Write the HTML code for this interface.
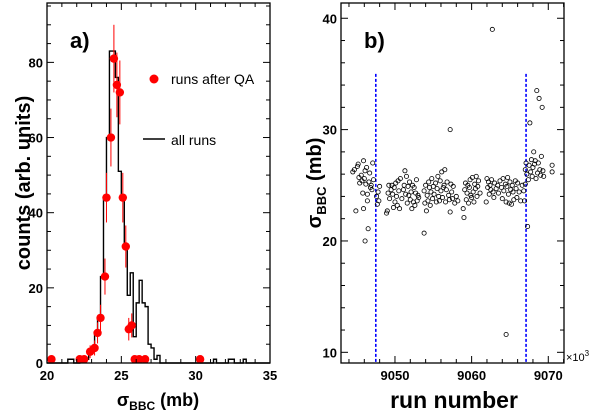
<!DOCTYPE html>
<html><head><meta charset="utf-8">
<style>
html,body{margin:0;padding:0;background:#fff;}
svg{display:block;font-family:"Liberation Sans",Arial,sans-serif;font-weight:bold;}
</style></head>
<body>
<svg id="chart" width="600" height="417" viewBox="0 0 600 417"></svg>
<script>
// ---------- Panel a data ----------
const histBinStarts = [21.4,21.6,21.8,22.0,22.2,22.4,22.6,22.8,23.0,23.2,23.4,23.6,23.8,24.0,24.2,24.4,24.6,24.8,25.0,25.2,25.4,25.6,25.8,26.0,26.2,26.4,26.6,26.8,27.0,27.2,27.4,27.6,31.2,31.4,32.2,32.4,32.6,33.2,33.4];
const histCounts    = [1,1,0,0,1,1,1,3,4,8,12,23,44,60,83,83,76,51,44,31,18,24,7,16,22,16,15,5,4,1,2,0,1,0,1,1,0,1,0];
const qaX = [20.3,22.2,22.5,22.9,23.2,23.4,23.6,23.9,24.0,24.3,24.5,24.7,24.9,25.1,25.3,25.5,25.7,25.9,26.2,26.6,30.3];
const qaY = [1,1,1,3,4,8,12,23,44,60,81,74,72,44,31,9,10,1,1,1,1];
const qaErr=[1,1,1,1.7,2,2.8,3.5,4.8,6.6,7.7,9,8.6,8.5,6.6,5.6,3,3.2,1,1,1,1];
// ---------- Panel b data ----------
const runNumbers = [44.5,44.7,44.9,45.1,45.2,45.3,45.4,45.6,45.7,45.8,45.9,45.9,46.0,46.1,46.1,46.2,46.3,46.4,46.4,46.5,46.6,46.7,46.8,46.9,47.0,47.1,47.2,47.6,47.7,47.8,47.9,48.0,
48.9,49.0,49.1,49.2,49.3,49.5,49.6,49.7,49.8,49.9,50.0,50.1,50.2,50.3,50.4,50.5,50.6,50.7,50.9,51.1,51.2,51.3,51.4,51.5,51.6,51.7,51.8,51.9,52.0,52.1,52.2,52.3,52.4,52.5,52.6,52.7,52.8,52.9,53.0,53.1,
53.8,53.8,53.9,54.0,54.1,54.2,54.3,54.4,54.5,54.6,54.7,54.8,54.9,55.0,55.1,55.3,55.4,55.5,55.6,55.7,55.8,55.9,56.0,56.1,56.2,56.3,56.4,56.5,56.6,56.7,56.8,57.2,57.0,57.1,57.2,57.3,57.4,57.5,57.6,57.8,58.0,58.2,
58.9,59.0,59.1,59.2,59.3,59.4,59.5,59.6,59.7,59.8,59.9,60.0,60.1,60.2,60.3,60.4,60.5,60.6,60.7,60.8,60.9,61.1,
61.9,62.0,62.1,62.2,62.3,62.4,62.5,62.6,62.7,62.8,62.9,63.0,63.2,63.4,63.5,63.7,63.9,64.0,64.1,64.2,64.4,64.5,64.6,64.7,64.8,64.9,65.0,65.1,65.2,65.3,65.4,65.5,64.5,65.7,65.8,65.9,66.0,66.2,66.4,66.6,
66.8,66.9,67.0,67.0,67.1,67.2,67.3,67.4,67.5,67.6,67.7,67.8,67.9,68.0,68.1,68.2,68.3,68.4,68.5,68.6,68.7,68.8,68.9,69.0,69.1,69.2,69.3,69.4,70.5,70.5];
const sigmaValues = [26.2,26.4,22.7,26.7,26.9,25.7,25.2,25.9,25.4,24.3,27.2,22.9,25.6,26.3,20.0,25.1,26.6,24.2,23.6,21.1,25.3,26.1,24.8,25.0,24.6,27.0,25.5,24.0,23.3,24.4,23.6,24.9,
22.5,22.7,24.3,25.0,23.8,24.6,25.0,24.2,23.0,24.8,23.5,25.2,24.0,23.2,25.4,24.5,22.9,25.6,23.8,24.6,25.0,26.3,24.2,25.8,23.4,24.9,24.1,25.3,23.7,24.4,22.9,25.0,23.5,24.8,23.2,24.3,25.5,23.6,24.1,23.9,
20.7,24.5,23.4,25.0,22.7,24.1,23.6,25.3,24.8,23.2,24.4,25.6,23.8,24.9,24.2,25.2,23.5,24.7,25.8,24.0,23.6,25.4,24.5,26.2,23.9,24.8,25.0,26.4,23.5,24.6,25.3,30.0,24.1,23.7,22.6,25.1,24.4,23.8,24.9,23.4,24.0,23.6,
22.9,22.1,24.6,25.2,23.7,24.3,25.0,23.4,24.8,25.5,24.1,23.9,25.7,24.4,23.5,25.1,24.7,25.8,24.0,24.9,25.4,24.3,
23.5,25.6,24.8,25.3,24.2,25.0,24.6,25.5,39.0,24.4,23.9,25.2,24.7,25.0,24.3,25.4,24.8,23.8,25.6,24.5,25.1,23.5,24.9,25.7,24.2,23.4,25.3,24.6,23.3,25.0,24.4,23.7,11.6,25.4,24.7,23.9,25.2,24.4,23.6,25.0,
24.5,23.6,26.4,25.1,27.0,26.0,21.3,25.5,26.8,30.6,26.2,27.3,25.8,26.6,28.0,26.9,27.2,25.6,33.5,26.1,27.0,32.8,26.4,25.9,27.6,32.0,26.3,25.8,26.8,26.2];
const cutRuns = [47.5, 67.1];
const leftXTicks=[20,25,30,35], leftYTicks=[0,20,40,60,80];
const rightXTicks=[9050,9060,9070], rightYTicks=[10,20,30,40];

const NS="http://www.w3.org/2000/svg";
const svg=document.getElementById('chart');
function mk(tag,attrs,parent){const e=document.createElementNS(NS,tag);for(const k in attrs)e.setAttribute(k,attrs[k]);(parent||svg).appendChild(e);return e;}

// ---------- Panel a ----------
const A={x0:47,x1:270,y0:363,y1:3,xmin:20,xmax:35,ymin:0,ymax:95.8};
const ax=v=>A.x0+(v-A.xmin)/(A.xmax-A.xmin)*(A.x1-A.x0);
const ay=v=>A.y0-(v-A.ymin)/(A.ymax-A.ymin)*(A.y0-A.y1);
const gA=mk('g',{});


let d=`M${ax(20)},${ay(0)} L${ax(histBinStarts[0])},${ay(0)}`;
for(let i=0;i<histBinStarts.length;i++){
  const s=histBinStarts[i], e=s+0.2;
  d+=` L${ax(s)},${ay(histCounts[i])} L${ax(e)},${ay(histCounts[i])}`;
  if(i+1<histBinStarts.length && Math.abs(histBinStarts[i+1]-e)>1e-6) d+=` L${ax(e)},${ay(0)} L${ax(histBinStarts[i+1])},${ay(0)}`;
}
d+=` L${ax(35)},${ay(0)}`;
const h=mk('path',{d:d,fill:'none',stroke:'#000','stroke-width':1.4},gA);


for(let i=0;i<qaX.length;i++){
  const l=mk('line',{x1:ax(qaX[i]),x2:ax(qaX[i]),y1:ay(qaY[i]+qaErr[i]),y2:ay(Math.max(0,qaY[i]-qaErr[i])),stroke:'#f00','stroke-width':1},gA);
  
  
  const c=mk('circle',{cx:ax(qaX[i]),cy:ay(qaY[i]),r:4.2,fill:'#f00'},gA);
  
  
}
const fa=mk('rect',{x:A.x0,y:A.y1,width:A.x1-A.x0,height:A.y0-A.y1,fill:'none',stroke:'#000','stroke-width':1.3},gA);


for(let v=20;v<=35;v+=1){const L=(v%5===0)?7:4;mk('line',{x1:ax(v),x2:ax(v),y1:A.y0,y2:A.y0-L,stroke:'#000'},gA);mk('line',{x1:ax(v),x2:ax(v),y1:A.y1,y2:A.y1+L,stroke:'#000'},gA);}
for(let v=0;v<=95;v+=5){const L=(v%20===0)?7:4;mk('line',{x1:A.x0,x2:A.x0+L,y1:ay(v),y2:ay(v),stroke:'#000'},gA);mk('line',{x1:A.x1,x2:A.x1-L,y1:ay(v),y2:ay(v),stroke:'#000'},gA);}
leftXTicks.forEach(v=>{const t=mk('text',{x:ax(v),y:380,'text-anchor':'middle','font-size':13},gA);t.textContent=v;});
leftYTicks.forEach(v=>{const t=mk('text',{x:43,y:ay(v)+5,'text-anchor':'end','font-size':13},gA);t.textContent=v;});

// ---------- Panel b ----------
const B={x0:341,x1:564,y0:363,y1:3,xmin:9042.96,xmax:9072.05,ymin:9.04,ymax:41.37};
const bx=v=>B.x0+(v-B.xmin)/(B.xmax-B.xmin)*(B.x1-B.x0);
const by=v=>B.y0-(v-B.ymin)/(B.ymax-B.ymin)*(B.y0-B.y1);
const gB=mk('g',{});


cutRuns.forEach(r=>{const l=mk('line',{x1:bx(9000+r),x2:bx(9000+r),y1:by(35),y2:B.y0,stroke:'#00f','stroke-width':1.6,'stroke-dasharray':'3,2'},gB);});
for(let i=0;i<runNumbers.length;i++){
  const c=mk('circle',{cx:bx(9000+runNumbers[i]),cy:by(sigmaValues[i]),r:2.1,fill:'none',stroke:'#000','stroke-width':0.8},gB);
  
  
}
const fb=mk('rect',{x:B.x0,y:B.y1,width:B.x1-B.x0,height:B.y0-B.y1,fill:'none',stroke:'#000','stroke-width':1.3},gB);


for(let v=9044;v<=9072;v+=2){const L=(v%10===0)?7:4;mk('line',{x1:bx(v),x2:bx(v),y1:B.y0,y2:B.y0-L,stroke:'#000'},gB);mk('line',{x1:bx(v),x2:bx(v),y1:B.y1,y2:B.y1+L,stroke:'#000'},gB);}
for(let v=10;v<=40;v+=2){const L=(v%10===0)?7:4;mk('line',{x1:B.x0,x2:B.x0+L,y1:by(v),y2:by(v),stroke:'#000'},gB);mk('line',{x1:B.x1,x2:B.x1-L,y1:by(v),y2:by(v),stroke:'#000'},gB);}
rightXTicks.forEach(v=>{const t=mk('text',{x:bx(v),y:380,'text-anchor':'middle','font-size':13},gB);t.textContent=v;});
rightYTicks.forEach(v=>{const t=mk('text',{x:337,y:by(v)+5,'text-anchor':'end','font-size':13},gB);t.textContent=v;});
</script>
<svg width="600" height="417" style="position:absolute;left:0;top:0" font-family="Liberation Sans, Arial, sans-serif" font-weight="bold">
  <text x="70" y="48" font-size="22">a)</text>
  <circle cx="154" cy="79" r="4.5" fill="#f00"/>
  <text x="171" y="84" font-size="14" font-weight="normal">runs after QA</text>
  <line x1="143" y1="139" x2="165" y2="139" stroke="#000" stroke-width="1.5"/>
  <text x="171" y="145" font-size="14" font-weight="normal">all runs</text>
  <text transform="translate(30,183) rotate(-90)" text-anchor="middle" font-size="20">counts (arb. units)</text>
  <text x="158" y="406" text-anchor="middle" font-size="18">σ<tspan font-size="12" dy="4">BBC</tspan><tspan dy="-4"> (mb)</tspan></text>
  <text x="364" y="48" font-size="22">b)</text>
  <text transform="translate(321,183) rotate(-90)" text-anchor="middle" font-size="20">σ<tspan font-size="13" dy="5">BBC</tspan><tspan dy="-5"> (mb)</tspan></text>
  <text x="454" y="408" text-anchor="middle" font-size="23">run number</text>
  <text x="566" y="361" font-size="11" font-weight="normal">×10<tspan font-size="8" dy="-5">3</tspan></text>
</svg>
</body></html>
